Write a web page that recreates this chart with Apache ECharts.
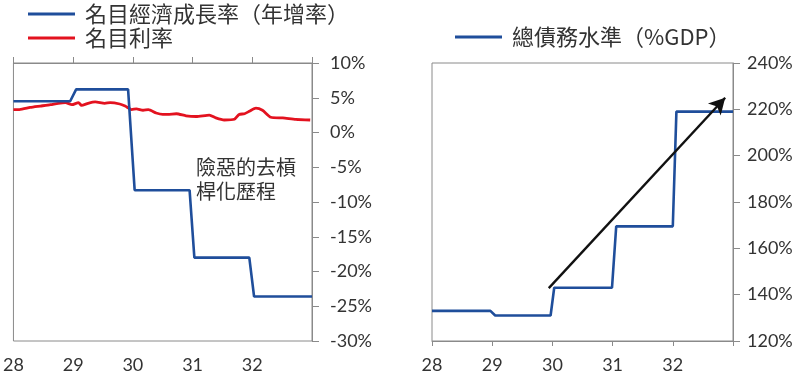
<!DOCTYPE html>
<html>
<head>
<meta charset="utf-8">
<script src="https://cdn.jsdelivr.net/npm/echarts@6/dist/echarts.min.js"></script>
<style>html,body{margin:0;padding:0;background:#fff}#c{width:801px;height:375px}</style>
</head>
<body>
<div id="c"></div>
<script>
// ---- data ----
var xTicks = [28, 29, 30, 31, 32, 33];
var leftYTicks = [-30, -25, -20, -15, -10, -5, 0, 5, 10];
var rightYTicks = [120, 140, 160, 180, 200, 220, 240];

var nominalGrowthName = '名目經濟成長率（年增率）';
var nominalRateName = '名目利率';
var debtName = '總債務水準（%GDP）';
var annotationText = '險惡的去槓\n桿化歷程';

// nominal growth (step line) [year, %]
var nominalGrowth = [[28, 4.5], [28.95, 4.5], [29.05, 6.2], [29.92, 6.2], [30.03, -8.3], [30.95, -8.3],
  [31.03, -18.0], [31.95, -18.0], [32.03, -23.6], [33, -23.6]];
// nominal interest rate [year, %]
var nominalRate = [[28, 3.3], [28.1, 3.3], [28.28, 3.6], [28.45, 3.8], [28.62, 4.0], [28.75, 4.2], [28.87, 4.3],
  [28.98, 4.0], [29.09, 4.3], [29.14, 3.9], [29.25, 4.2], [29.37, 4.4], [29.53, 4.2], [29.62, 4.3],
  [29.78, 4.1], [29.87, 3.8], [29.98, 3.3], [30.06, 3.4], [30.17, 3.2], [30.26, 3.3], [30.39, 2.8],
  [30.5, 2.6], [30.58, 2.6], [30.73, 2.7], [30.89, 2.4], [31.06, 2.3], [31.28, 2.5], [31.39, 2.1],
  [31.53, 1.8], [31.7, 1.9], [31.78, 2.6], [31.87, 2.7], [31.96, 3.1], [32.06, 3.5], [32.17, 3.2],
  [32.31, 2.2], [32.51, 2.1], [32.73, 1.9], [32.97, 1.8]];
// total debt [year, % of GDP]
var totalDebt = [[28, 133], [28.97, 133], [29.05, 131], [29.97, 131], [30.03, 143], [30.99, 143],
  [31.06, 169.5], [32.0, 169.5], [32.06, 219], [33, 219]];
// trend arrow [start, end]
var arrowStart = [29.94, 142.8];
var arrowEnd = [32.87, 225];

// ---- chart ----
var BLUE = '#1f4e9b', RED = '#e3121f', AXIS = '#8a8a8a', TXT = '#333';
var numFont = 'Lato, "Noto Sans", sans-serif';
var cjkFont = '"Noto Sans CJK TC", sans-serif';

var chart = echarts.init(document.getElementById('c'), null, {renderer: 'canvas'});

function valueX(gridIndex, opts) {
  return Object.assign({
    type: 'value', gridIndex: gridIndex, min: xTicks[0], max: xTicks[xTicks.length - 1], interval: 1,
    splitLine: {show: false},
    axisLine: {show: false},
    axisTick: {show: false},
    axisLabel: {show: true, color: TXT, fontSize: 18, fontFamily: numFont, margin: 15,
      formatter: function (v) { return v === xTicks[xTicks.length - 1] ? '' : String(v); }}
  }, opts || {});
}

chart.setOption({
  animation: false,
  textStyle: {fontFamily: cjkFont},
  grid: [
    {left: 13, right: 489, top: 63, bottom: 34, show: true, borderColor: AXIS, borderWidth: 1},
    {left: 432, right: 68, top: 63, bottom: 34, show: true, borderColor: AXIS, borderWidth: 1}
  ],
  legend: [
    {orient: 'vertical', left: 28, top: 3, padding: 0, itemWidth: 47, itemHeight: 3, itemGap: 2, icon: 'rect',
      data: [nominalGrowthName, nominalRateName], selectedMode: false,
      textStyle: {fontSize: 22, lineHeight: 22, color: TXT, fontFamily: cjkFont, padding: [0, 0, 0, 5]}},
    {orient: 'horizontal', left: 455, top: 26, padding: 0, itemWidth: 47, itemHeight: 3, icon: 'rect',
      data: [debtName], selectedMode: false,
      textStyle: {fontSize: 22, lineHeight: 22, color: TXT, fontFamily: cjkFont, padding: [0, 0, 0, 5]}}
  ],
  xAxis: [
    valueX(0),
    valueX(0, {axisLabel: {show: false}, axisLine: {show: true, onZero: true, lineStyle: {color: AXIS, width: 1}},
      axisTick: {show: true, length: 6, lineStyle: {color: AXIS}}}),
    valueX(1, {axisLine: {show: true, onZero: false, lineStyle: {color: AXIS, width: 1}},
      axisTick: {show: true, length: 5, lineStyle: {color: AXIS}}})
  ],
  yAxis: [
    {type: 'value', gridIndex: 0, position: 'right', min: leftYTicks[0], max: leftYTicks[leftYTicks.length - 1], interval: 5,
      splitLine: {show: false},
      axisLine: {show: true, lineStyle: {color: AXIS}},
      axisTick: {show: true, length: 7, lineStyle: {color: AXIS}},
      axisLabel: {color: TXT, fontSize: 18, fontFamily: numFont, margin: 18, formatter: '{value}%'}},
    {type: 'value', gridIndex: 1, position: 'right', min: rightYTicks[0], max: rightYTicks[rightYTicks.length - 1], interval: 20,
      splitLine: {show: false},
      axisLine: {show: true, lineStyle: {color: AXIS}},
      axisTick: {show: true, length: 7, lineStyle: {color: AXIS}},
      axisLabel: {color: TXT, fontSize: 18, fontFamily: numFont, margin: 14, formatter: '{value}%'}}
  ],
  series: [
    {name: nominalGrowthName, type: 'line', xAxisIndex: 0, yAxisIndex: 0, data: nominalGrowth,
      showSymbol: false, lineStyle: {color: BLUE, width: 2.6}, itemStyle: {color: BLUE}, z: 3},
    {name: nominalRateName, type: 'line', xAxisIndex: 0, yAxisIndex: 0, data: nominalRate,
      showSymbol: false, smooth: 0.2, lineStyle: {color: RED, width: 2.8}, itemStyle: {color: RED}, z: 2},
    {name: debtName, type: 'line', xAxisIndex: 2, yAxisIndex: 1, data: totalDebt,
      showSymbol: false, lineStyle: {color: BLUE, width: 2.6}, itemStyle: {color: BLUE},
      markLine: {silent: true, symbol: ['none', 'arrow'], symbolSize: [13, 16], label: {show: false},
        lineStyle: {color: '#111', width: 2.4, type: 'solid'}, emphasis: {disabled: true},
        data: [[{coord: arrowStart}, {coord: arrowEnd}]]}}
  ],
  graphic: [
    {type: 'text', left: 196, top: 155, style: {text: annotationText, fontSize: 20, lineHeight: 24,
      fill: TXT, fontFamily: cjkFont}}
  ]
});
</script>
</body>
</html>
